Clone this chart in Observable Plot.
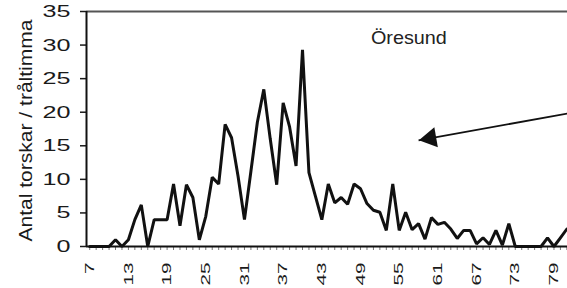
<!DOCTYPE html>
<html>
<head>
<meta charset="utf-8">
<script src="https://cdn.jsdelivr.net/npm/d3@7"></script>
<script src="https://cdn.jsdelivr.net/npm/@observablehq/plot@0.6"></script>
<style>
  body { margin: 0; background: #fff; }
  svg { display: block; }
</style>
</head>
<body>
<div id="chart"></div>
<script>
// Length classes (cm) and catch per trawl hour
const lengths = [7, 8, 9, 10, 11, 12, 13, 14, 15, 16, 17, 18, 19, 20, 21, 22, 23, 24, 25, 26,
  27, 28, 29, 30, 31, 32, 33, 34, 35, 36, 37, 38, 39, 40, 41, 42, 43, 44, 45, 46,
  47, 48, 49, 50, 51, 52, 53, 54, 55, 56, 57, 58, 59, 60, 61, 62, 63, 64, 65, 66,
  67, 68, 69, 70, 71, 72, 73, 74, 75, 76, 77, 78, 79, 80, 81];
const torskar = [0, 0, 0, 0, 1, 0, 1, 4, 6.2, 0, 4, 4, 4, 9.3, 3.1, 9.2, 7.3, 1, 4.5, 10.3,
  9.3, 18.2, 16.2, 10.5, 4, 11.2, 18.5, 23.4, 16, 9.2, 21.4, 17.8, 12, 29.3, 11, 7.5, 4, 9.3, 6.5, 7.3,
  6.3, 9.3, 8.6, 6.4, 5.4, 5.1, 2.4, 9.3, 2.4, 5.1, 2.5, 3.4, 1.1, 4.3, 3.3, 3.6, 2.6, 1.2, 2.4, 2.4,
  0.4, 1.3, 0.3, 2.4, 0.2, 3.4, 0, 0, 0, 0, 0, 1.3, 0, 1.3, 2.6];

const yTicks = [0, 5, 10, 15, 20, 25, 30, 35];
const xTickLabels = [7, 13, 19, 25, 31, 37, 43, 49, 55, 61, 67, 73, 79];
const yTitle = "Antal torskar / tråltimma";
const areaLabel = "Öresund";
const labelPos = {x: 56.5, y: 31};
const arrowFrom = {x: 81.1, y: 19.8};
const arrowTo = {x: 58, y: 15.8};

const data = lengths.map((L, i) => ({L, v: torskar[i]}));

const chart = Plot.plot({
  width: 567,
  height: 288,
  marginLeft: 86,
  marginRight: 0,
  marginTop: 11,
  marginBottom: 42,
  style: {fontFamily: "'Liberation Sans', Arial, sans-serif", color: "#1a1a1a", background: "#fff"},
  x: {domain: [6.5, 81.1], axis: null},
  y: {domain: [0, 35], axis: null},
  marks: [
    Plot.axisX({ticks: lengths, tickSize: 4, tickFormat: () => "", label: null, stroke: "#777", strokeWidth: 1}),
    Plot.axisX({ticks: xTickLabels, tickSize: 0, tickRotate: -90, tickPadding: 16, fontSize: 13, label: null}),
    Plot.axisY({ticks: yTicks, tickSize: 6, tickPadding: 10, fontSize: 17, label: null, strokeWidth: 1.5}),
    Plot.ruleY([0], {stroke: "#111", strokeWidth: 2}),
    Plot.ruleY([35], {stroke: "#555", strokeWidth: 2}),
    Plot.ruleX([6.5], {stroke: "#111", strokeWidth: 2}),
    Plot.line(data, {x: "L", y: "v", stroke: "#111", strokeWidth: 3, strokeLinejoin: "miter"}),
    Plot.text([yTitle], {frameAnchor: "left", textAnchor: "middle", dx: -60.5, dy: 1.5, rotate: -90, fontSize: 19, fill: "#1a1a1a"}),
    Plot.text([areaLabel], {x: labelPos.x, y: labelPos.y, fontSize: 19, fill: "#222"}),
    Plot.link([arrowFrom], {x1: "x", y1: "y", x2: arrowTo.x, y2: arrowTo.y, stroke: "#111", strokeWidth: 1.8}),
    Plot.dot([arrowTo], {x: "x", y: "y", symbol: "triangle", r: 7.5, fill: "#111", stroke: "none", rotate: -100, dx: 11.8, dy: -2.1})
  ]
});

document.getElementById("chart").append(chart);

// Stretch the text along its writing direction as in the scanned original
const svg = d3.select(chart);
function stretch(sel, perChar) {
  sel.each(function () {
    const t = this.textContent;
    if (t && t.length) d3.select(this).attr("textLength", t.length * perChar).attr("lengthAdjust", "spacingAndGlyphs");
  });
}
stretch(svg.selectAll("g[aria-label='y-axis tick label'] text"), 14);
stretch(svg.selectAll("g[aria-label='x-axis tick label'] text"), 11.5);
svg.selectAll("text").each(function () {
  const t = this.textContent;
  if (t === yTitle) d3.select(this).attr("textLength", 222).attr("lengthAdjust", "spacingAndGlyphs");
  if (t === areaLabel) d3.select(this).attr("textLength", 76).attr("lengthAdjust", "spacingAndGlyphs");
});
</script>
</body>
</html>
